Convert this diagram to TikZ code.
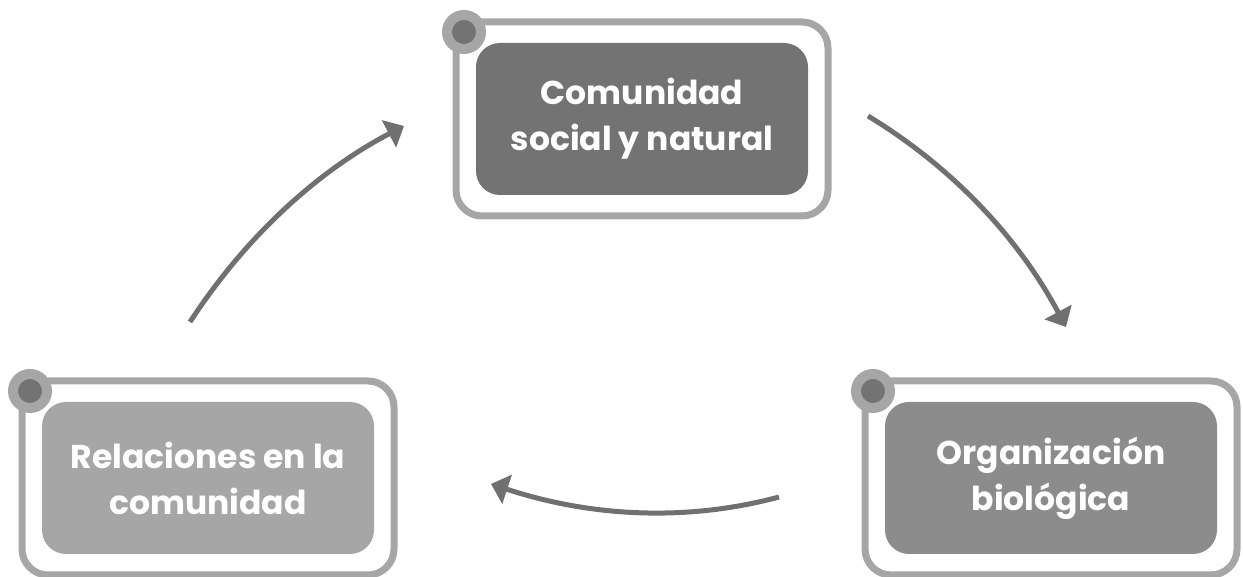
\documentclass[tikz,border=0pt]{standalone}
\usepackage{fontspec}
\setmainfont{Poppins}
\usetikzlibrary{arrows.meta,calc}

\begin{document}
\begin{tikzpicture}[x=1pt, y=1pt]

\definecolor{framegray}{RGB}{166,166,166}
\definecolor{darkgray}{RGB}{115,115,115}
\definecolor{midgray}{RGB}{140,140,140}
\definecolor{arrowgray}{RGB}{112,112,112}

\tikzset{
  boxframe/.style={draw=framegray, line width=7pt, rounded corners=26pt, outer sep=0pt,
    minimum width=372pt, minimum height=194pt},
  boxfill/.style={rounded corners=24pt, minimum width=332pt, minimum height=152pt,
    text=white, align=center, font=\bfseries\fontsize{33}{46}\selectfont},
  cornerdot/.style={circle, draw=framegray, line width=10pt, fill=darkgray,
    minimum size=34pt, inner sep=0pt},
  cyclearrow/.style={line width=5pt, draw=arrowgray, -{Triangle[length=17pt, width=30pt]}}
}

\useasboundingbox (0, 0) rectangle (1243, 577);

\node[boxframe] (fcomunidad) at (642, 458) {};
\node[boxframe] (frelaciones) at (208, 99) {};
\node[boxframe] (forganizacion) at (1051, 99) {};

\node[cornerdot] at ($(fcomunidad.north west) + (8, -10)$) {};
\node[cornerdot] at ($(frelaciones.north west) + (8, -10)$) {};
\node[cornerdot] at ($(forganizacion.north west) + (8, -10)$) {};

\node[boxfill, fill=darkgray] (comunidad) at (fcomunidad) {Comunidad\\social y natural};
\node[boxfill, fill=framegray] (relaciones) at (frelaciones) {Relaciones en la\\comunidad};
\node[boxfill, fill=midgray] (organizacion) at (forganizacion) {Organización\\biológica};

\coordinate (relacionesout) at (190, 255);
\coordinate (comunidadin) at (404, 451);
\coordinate (comunidadout) at (868, 461);
\coordinate (organizacionin) at (1066, 250);
\coordinate (organizacionout) at (779, 80);
\coordinate (relacionesin) at (491, 93);

\draw[cyclearrow] (relacionesout) .. controls (246, 341) and (318, 406) .. (comunidadin);
\draw[cyclearrow] (comunidadout) .. controls (952, 410) and (1018, 340) .. (organizacionin);
\draw[cyclearrow] (organizacionout) .. controls (690, 56) and (594, 59) .. (relacionesin);

\end{tikzpicture}
\end{document}
